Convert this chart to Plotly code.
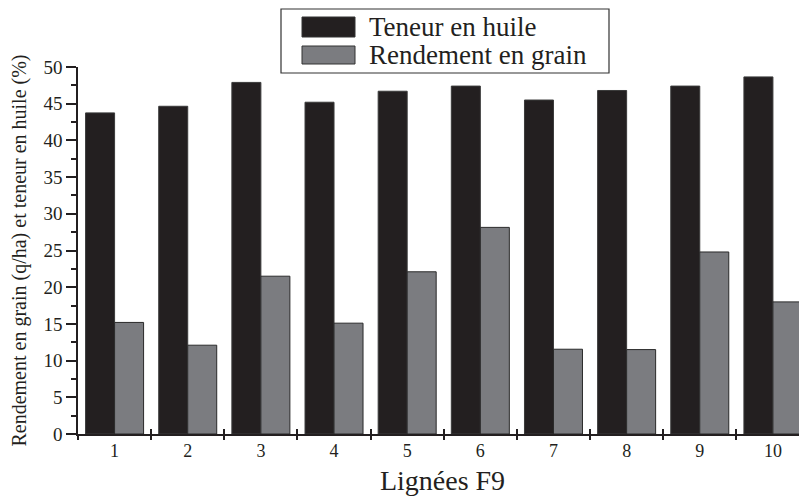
import plotly.graph_objects as go

lines = [1, 2, 3, 4, 5, 6, 7, 8, 9, 10]
line_labels = ["1", "2", "3", "4", "5", "6", "7", "8", "9", "10"]
teneur_huile = [43.75, 44.65, 47.9, 45.2, 46.7, 47.4, 45.5, 46.8, 47.4, 48.65]
rendement_grain = [15.2, 12.1, 21.5, 15.1, 22.1, 28.15, 11.55, 11.5, 24.8, 18.0]
series_names = ["Teneur en huile", "Rendement en grain"]
y_ticks = [0, 5, 10, 15, 20, 25, 30, 35, 40, 45, 50]

# the page body has an 8px margin, so the figure is drawn 8px in from the corner
OFF = 8
W, H = 807 - OFF, 496 - OFF
ML, MR, MT, MB = 78 - OFF, 0, 67 - OFF, 62
BLACK = "#231f20"
GREY = "#7b7c80"
FONT = "Liberation Serif, Times New Roman, serif"

fig = go.Figure()
fig.add_trace(go.Bar(x=lines, y=teneur_huile, name=series_names[0],
                     marker=dict(color=BLACK, line=dict(color="#3a3a3a", width=1)),
                     showlegend=False))
fig.add_trace(go.Bar(x=lines, y=rendement_grain, name=series_names[1],
                     marker=dict(color=GREY, line=dict(color="#2a2a2a", width=1)),
                     showlegend=False))
# helper trace so the overlay axis (inner boundary ticks) is drawn
fig.add_trace(go.Scatter(x=[], y=[], xaxis="x2", showlegend=False, hoverinfo="skip"))

pw = W - ML - MR
ph = H - MT - MB
xr = [0.5, 0.5 + pw / 73.15]

# reference-pixel -> paper helpers
def px(x):
    return (x - OFF - ML) / pw

def py(y):
    return (H - MB - (y - OFF)) / ph

shapes = [
    dict(type="rect", xref="paper", yref="paper", x0=px(281), x1=px(609), y0=py(73), y1=py(9),
         line=dict(color="#333333", width=1.2), fillcolor="white", layer="above"),
    dict(type="rect", xref="paper", yref="paper", x0=px(302), x1=px(355), y0=py(37), y1=py(17),
         line=dict(color="#333333", width=1), fillcolor=BLACK, layer="above"),
    dict(type="rect", xref="paper", yref="paper", x0=px(302), x1=px(355), y0=py(64), y1=py(46),
         line=dict(color="#333333", width=1), fillcolor=GREY, layer="above"),
]
annotations = [
    dict(xref="paper", yref="paper", x=px(367), y=py(27), text=series_names[0], showarrow=False,
         xanchor="left", yanchor="middle", font=dict(family=FONT, size=27, color=BLACK)),
    dict(xref="paper", yref="paper", x=px(367), y=py(55), text=series_names[1], showarrow=False,
         xanchor="left", yanchor="middle", font=dict(family=FONT, size=27, color=BLACK)),
]

fig.update_layout(
    width=W, height=H,
    margin=dict(l=ML, r=MR, t=MT, b=MB, autoexpand=False),
    paper_bgcolor="white", plot_bgcolor="white",
    barmode="group", bargap=0.207, bargroupgap=0,
    font=dict(family=FONT, color=BLACK),
    shapes=shapes, annotations=annotations,
    xaxis=dict(
        range=xr, tickmode="array", tickvals=lines, ticktext=line_labels,
        ticks="", ticklen=0,
        tickfont=dict(family=FONT, size=18, color=BLACK),
        minor=dict(tick0=0.5, dtick=1, ticks="outside", ticklen=4, tickwidth=1.5, tickcolor=BLACK),
        showline=True, linecolor=BLACK, linewidth=1.5, showgrid=False, zeroline=False,
        title=dict(text="Lignées F9", font=dict(family=FONT, size=28, color=BLACK)),
        automargin=False,
    ),
    xaxis2=dict(
        overlaying="x", anchor="y", range=xr, tickmode="linear", tick0=0.5, dtick=1,
        ticks="inside", ticklen=5, tickwidth=1.5, tickcolor=BLACK,
        showticklabels=False, showline=False, showgrid=False, zeroline=False, side="bottom",
    ),
    yaxis=dict(
        range=[0, 50], tickmode="array", tickvals=y_ticks,
        ticks="outside", ticklen=10, tickwidth=1.5, tickcolor=BLACK,
        minor=dict(dtick=2.5, ticks="outside", ticklen=5, tickwidth=1.5, tickcolor=BLACK),
        tickfont=dict(family=FONT, size=19, color=BLACK),
        showline=True, linecolor=BLACK, linewidth=1.5, showgrid=False, zeroline=False,
        title=dict(text="Rendement en grain (q/ha) et teneur en huile (%)",
                   font=dict(family=FONT, size=20, color=BLACK)),
        automargin=False,
    ),
)

fig.write_html("out.html")
